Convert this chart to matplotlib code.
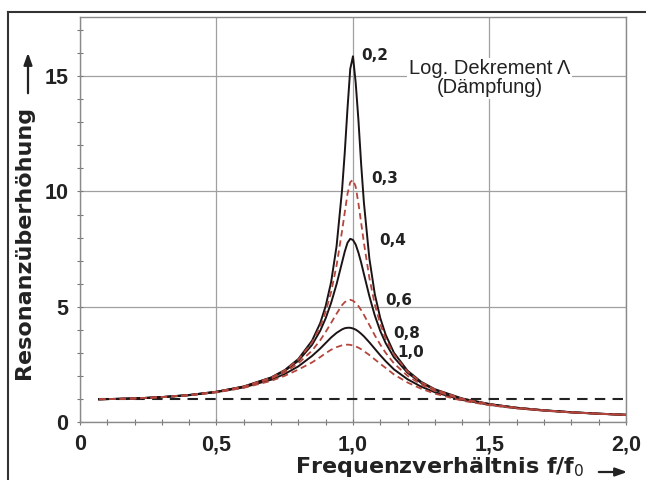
import numpy as np
import matplotlib
matplotlib.use('Agg')
import matplotlib.pyplot as plt
from matplotlib.lines import Line2D
from matplotlib.patches import FancyArrowPatch
from matplotlib.ticker import MultipleLocator, FixedLocator

plt.rcParams['font.family'] = ['Liberation Sans', 'DejaVu Sans']

# frequency ratio f/f0 (sample points)
x = [0.07, 0.2, 0.3, 0.4, 0.5, 0.6, 0.7, 0.75, 0.8, 0.85, 0.88, 0.9, 0.92, 0.94,
     0.96, 0.97, 0.98, 0.99, 1.0, 1.01, 1.02, 1.03, 1.04, 1.06, 1.08, 1.1, 1.12,
     1.15, 1.2, 1.25, 1.3, 1.4, 1.5, 1.6, 1.7, 1.8, 1.9, 2.0]

# resonance amplification for each log. decrement
y_02 = [1.005, 1.04, 1.10, 1.19, 1.33, 1.56, 1.95, 2.27, 2.75, 3.54, 4.30, 5.04, 6.08, 7.64,
        10.06, 11.70, 13.60, 15.30, 15.85, 14.70, 13.08, 11.17, 9.52, 7.10, 5.55, 4.52, 3.79,
        3.02, 2.24, 1.76, 1.44, 1.04, 0.80, 0.64, 0.53, 0.446, 0.383, 0.333]
y_03 = [1.005, 1.04, 1.10, 1.19, 1.33, 1.56, 1.94, 2.26, 2.72, 3.46, 4.15, 4.80, 5.65, 6.80,
        8.29, 9.10, 9.90, 10.40, 10.50, 10.20, 9.48, 8.64, 7.78, 6.26, 5.11, 4.26, 3.62,
        2.94, 2.20, 1.74, 1.43, 1.03, 0.795, 0.638, 0.527, 0.445, 0.382, 0.333]
y_04 = [1.005, 1.04, 1.10, 1.19, 1.33, 1.55, 1.93, 2.23, 2.67, 3.36, 3.97, 4.51, 5.18, 5.99,
        6.93, 7.40, 7.78, 7.95, 7.90, 7.70, 7.35, 6.92, 6.43, 5.47, 4.63, 3.96, 3.43,
        2.82, 2.15, 1.71, 1.41, 1.02, 0.791, 0.636, 0.526, 0.444, 0.382, 0.332]
y_06 = [1.005, 1.04, 1.10, 1.185, 1.32, 1.54, 1.90, 2.17, 2.56, 3.11, 3.56, 3.92, 4.31, 4.71,
        5.08, 5.21, 5.29, 5.31, 5.27, 5.18, 5.04, 4.86, 4.66, 4.22, 3.77, 3.37, 3.01,
        2.56, 2.02, 1.64, 1.36, 1.00, 0.78, 0.629, 0.521, 0.441, 0.380, 0.331]
y_08 = [1.005, 1.04, 1.095, 1.18, 1.315, 1.52, 1.85, 2.10, 2.43, 2.88, 3.20, 3.44, 3.68, 3.88,
        4.03, 4.08, 4.10, 4.10, 4.07, 4.02, 3.94, 3.84, 3.73, 3.47, 3.19, 2.91, 2.65,
        2.30, 1.87, 1.55, 1.31, 0.977, 0.765, 0.620, 0.516, 0.437, 0.377, 0.329]
y_10 = [1.005, 1.04, 1.093, 1.177, 1.304, 1.50, 1.80, 2.02, 2.29, 2.60, 2.83, 3.00, 3.15, 3.26,
        3.34, 3.36, 3.37, 3.36, 3.33, 3.29, 3.24, 3.17, 3.09, 2.92, 2.73, 2.54, 2.36,
        2.08, 1.73, 1.46, 1.25, 0.945, 0.747, 0.609, 0.509, 0.433, 0.373, 0.326]

curves = [('0,2', y_02), ('0,3', y_03), ('0,4', y_04), ('0,6', y_06), ('0,8', y_08), ('1,0', y_10)]

# static reference line (amplification 1)
ref_x = [0.07, 2.0]
ref_y = [1.0, 1.0]

fig = plt.figure(figsize=(6.46, 4.8), dpi=100)
ax = fig.add_axes([0.1238, 0.1198, 0.8452, 0.8448])

solid = '#1c1414'
red = '#b5463e'
for i, (lab, yy) in enumerate(curves):
    if i % 2 == 0:
        ax.plot(x, yy, color=solid, lw=1.4, zorder=3)
    else:
        ax.plot(x, yy, color=red, lw=1.3, dashes=(3.5, 2.2), zorder=4)

ax.plot(ref_x, ref_y, color='#222222', lw=1.5, dashes=(5, 3.5), zorder=2)

ax.set_xlim(0, 2.0)
ax.set_ylim(0, 17.55)

ax.xaxis.set_major_locator(FixedLocator([0, 0.5, 1.0, 1.5, 2.0]))
ax.yaxis.set_major_locator(FixedLocator([0, 5, 10, 15]))
ax.xaxis.set_minor_locator(MultipleLocator(0.1))
ax.yaxis.set_minor_locator(MultipleLocator(1))
ax.set_xticklabels(['0', '0,5', '1,0', '1,5', '2,0'])
ax.set_yticklabels(['0', '5', '10', '15'])
ax.tick_params(which='both', direction='inout', length=5, width=0.8, color='#777777')
ax.tick_params(which='major', labelsize=15.5, pad=6)
for t in ax.get_xticklabels() + ax.get_yticklabels():
    t.set_fontweight('bold')
    t.set_color('#222222')

ax.grid(True, which='major', color='#a0a0a0', lw=0.9)
for s in ax.spines.values():
    s.set_color('#8a8a8a')
    s.set_linewidth(1.0)

# curve labels
lab_pos = [(1.032, 15.9), (1.068, 10.54), (1.098, 7.86), (1.12, 5.26), (1.149, 3.87), (1.164, 3.05)]
for (lab, yy), (lx, ly) in zip(curves, lab_pos):
    ax.text(lx, ly, lab, fontsize=11, fontweight='bold', color='#222222', family='DejaVu Sans',
            ha='left', va='center', zorder=5)

ax.text(1.50, 14.9, 'Log. Dekrement Λ\n(Dämpfung)', fontsize=14.5, ha='center', va='center',
        color='#222222', linespacing=1.0, zorder=5,
        bbox=dict(facecolor='white', edgecolor='none', pad=1))

# axis titles with arrows
fig.text(24 / 646, 1 - 242 / 480, 'Resonanzüberhöhung', rotation=90, fontsize=16,
         fontweight='bold', family='DejaVu Sans', ha='center', va='center', color='#222222')
fig.text(440 / 646, 1 - 467 / 480, 'Frequenzverhältnis f/f$_0$', fontsize=16,
         fontweight='bold', family='DejaVu Sans', ha='center', va='center', color='#222222')
fig.patches.append(FancyArrowPatch(
    (28 / 646, 1 - 96 / 480), (28 / 646, 1 - 50 / 480), transform=fig.transFigure,
    arrowstyle='-|>,head_length=7,head_width=2.5', color='#222222', lw=1.6))
fig.patches.append(FancyArrowPatch(
    (596 / 646, 1 - 472 / 480), (630 / 646, 1 - 472 / 480), transform=fig.transFigure,
    arrowstyle='-|>,head_length=7,head_width=2.5', color='#222222', lw=1.6))

# outer frame
fig.add_artist(Line2D([8 / 646, 8 / 646], [0, 1 - 12 / 480], transform=fig.transFigure,
                      color='#333333', lw=1.5))
fig.add_artist(Line2D([8 / 646, 1], [1 - 12 / 480, 1 - 12 / 480], transform=fig.transFigure,
                      color='#333333', lw=1.5))

fig.savefig('out.png', dpi=100)
